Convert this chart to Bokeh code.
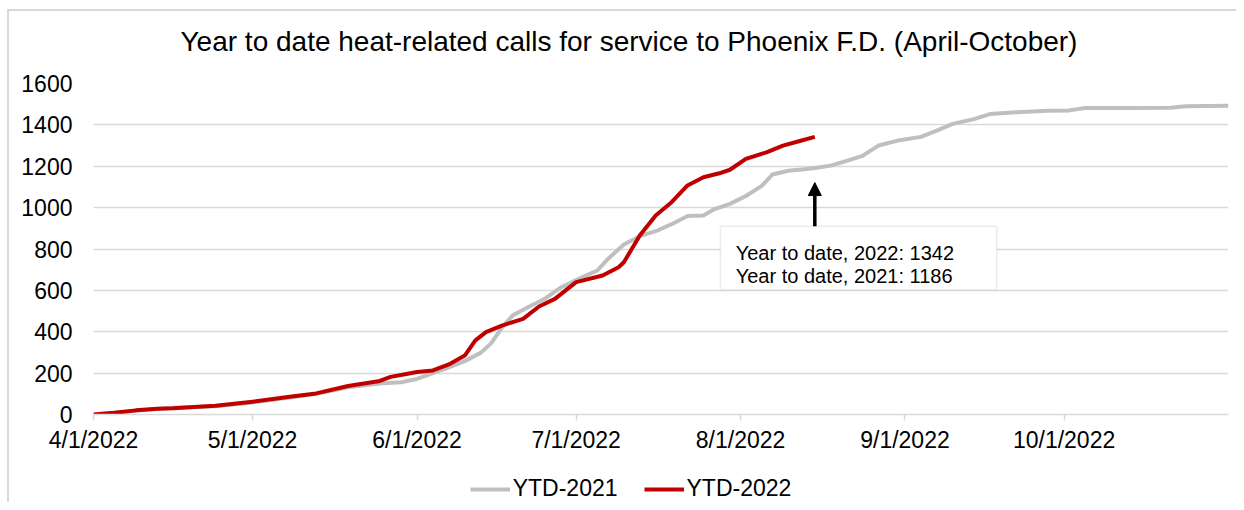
import pandas as pd
from bokeh.plotting import figure
from bokeh.layouts import column
from bokeh.models import (Range1d, FixedTicker, CustomJSTickFormatter, Legend, LegendItem,
                          Arrow, NormalHead, BoxAnnotation, Label, Title)
from bokeh.embed import file_html
from bokeh.resources import INLINE

title_text = "Year to date heat-related calls for service to Phoenix F.D. (April-October)"
series_names = ["YTD-2021", "YTD-2022"]

dates_2021 = ["2022-04-01", "2022-04-09", "2022-04-16", "2022-04-24", "2022-05-01", "2022-05-08",
              "2022-05-13", "2022-05-19", "2022-05-25", "2022-05-29", "2022-06-01", "2022-06-04",
              "2022-06-07", "2022-06-10", "2022-06-13", "2022-06-15", "2022-06-17", "2022-06-19",
              "2022-06-22", "2022-06-25", "2022-06-28", "2022-07-02", "2022-07-05", "2022-07-07",
              "2022-07-10", "2022-07-13", "2022-07-16", "2022-07-19", "2022-07-22", "2022-07-25",
              "2022-07-27", "2022-07-30", "2022-08-02", "2022-08-05", "2022-08-07", "2022-08-10",
              "2022-08-13", "2022-08-15", "2022-08-18", "2022-08-21", "2022-08-24", "2022-08-27",
              "2022-08-31", "2022-09-04", "2022-09-07", "2022-09-10", "2022-09-14", "2022-09-17",
              "2022-09-22", "2022-09-28", "2022-10-02", "2022-10-05", "2022-10-14", "2022-10-21",
              "2022-10-24", "2022-11-01"]
ytd_2021 = [0, 18, 33, 40, 58, 82,
            100, 132, 150, 156, 172, 200,
            228, 258, 298, 345, 420, 478,
            520, 558, 612, 662, 696, 752,
            822, 862, 886, 920, 960, 962,
            992, 1018, 1056, 1105, 1160, 1178,
            1186, 1192, 1203, 1226, 1250, 1300,
            1326, 1342, 1372, 1405, 1428, 1452,
            1461, 1468, 1470, 1482, 1482, 1483,
            1490, 1493]

dates_2022 = ["2022-04-01", "2022-04-05", "2022-04-09", "2022-04-13", "2022-04-16", "2022-04-24",
              "2022-05-01", "2022-05-08", "2022-05-13", "2022-05-19", "2022-05-25", "2022-05-27",
              "2022-05-30", "2022-06-01", "2022-06-04", "2022-06-07", "2022-06-10", "2022-06-12",
              "2022-06-14", "2022-06-17", "2022-06-21", "2022-06-24", "2022-06-27", "2022-07-01",
              "2022-07-06", "2022-07-09", "2022-07-10", "2022-07-13", "2022-07-16", "2022-07-19",
              "2022-07-22", "2022-07-25", "2022-07-28", "2022-07-30", "2022-08-02", "2022-08-06",
              "2022-08-09", "2022-08-12", "2022-08-15"]
ytd_2022 = [0, 8, 20, 28, 30, 42,
            62, 86, 102, 138, 162, 182,
            196, 205, 213, 242, 285, 358,
            398, 430, 462, 522, 559, 640,
            672, 712, 736, 865, 962, 1026,
            1107, 1147, 1166, 1183, 1236, 1268,
            1300, 1321, 1342]

x_tick_dates = ["2022-04-01", "2022-05-01", "2022-06-01", "2022-07-01",
                "2022-08-01", "2022-09-01", "2022-10-01"]
y_ticks = [0, 200, 400, 600, 800, 1000, 1200, 1400, 1600]

annotation_lines = ["Year to date, 2022: 1342", "Year to date, 2021: 1186"]


def ms(d):
    return pd.Timestamp(d).value / 1e6


FONT = "Liberation Sans"
GRID = "#d9d9d9"
GRAY = "#BFBFBF"
RED = "#C00000"

p = figure(width=1227, height=452, x_axis_type="datetime", output_backend="svg",
           toolbar_location=None,
           x_range=Range1d(ms("2022-04-01"), ms("2022-11-01")),
           y_range=Range1d(0, 1600),
           min_border_left=84, min_border_right=8, min_border_top=72, min_border_bottom=49)
p.outline_line_color = None
p.background_fill_color = "white"
p.border_fill_color = "white"

p.title = Title(text=title_text, align="left", offset=87, text_font=FONT,
                text_font_size="28px", text_font_style="normal", text_color="black")
# blank spacer between the title and the plot area
p.add_layout(Title(text=" ", text_font_size="10px", standoff=9), "above")

x21 = pd.to_datetime(dates_2021)
x22 = pd.to_datetime(dates_2022)
p.line(x21, ytd_2021, line_color=GRAY, line_width=4, line_join="round")
p.line(x22, ytd_2022, line_color=RED, line_width=4, line_join="round")

# axes
p.xaxis.ticker = FixedTicker(ticks=[ms(d) for d in x_tick_dates])
p.xaxis.formatter = CustomJSTickFormatter(code="""
const d = new Date(tick);
return (d.getUTCMonth()+1) + "/" + d.getUTCDate() + "/" + d.getUTCFullYear();
""")
p.xaxis.axis_line_color = GRID
p.xaxis.axis_line_width = 1.5
p.xaxis.major_tick_line_color = GRID
p.xaxis.major_tick_line_width = 1.5
p.xaxis.major_tick_out = 6
p.xaxis.major_tick_in = 0
p.xaxis.minor_tick_line_color = None
p.xaxis.major_label_text_font = FONT
p.xaxis.major_label_text_font_size = "23px"
p.xaxis.major_label_text_color = "black"
p.xaxis.major_label_standoff = 6

p.yaxis.ticker = FixedTicker(ticks=y_ticks)
p.yaxis.axis_line_color = None
p.yaxis.major_tick_line_color = None
p.yaxis.minor_tick_line_color = None
p.yaxis.major_tick_out = 0
p.yaxis.major_label_text_font = FONT
p.yaxis.major_label_text_font_size = "23px"
p.yaxis.major_label_text_color = "black"
p.yaxis.major_label_standoff = 21

p.xgrid.grid_line_color = None
p.ygrid.grid_line_color = GRID
p.ygrid.grid_line_width = 1.5

# annotation box, text and arrow
box = BoxAnnotation(left=ms("2022-07-28 05:00"), right=ms("2022-09-18 07:00"),
                    bottom=603, top=910, fill_color="white", fill_alpha=1,
                    line_color="#bfbfbf", line_width=1.5)
p.add_layout(box)
for txt, yv in zip(annotation_lines, [779, 668]):
    p.add_layout(Label(x=ms("2022-07-31 02:00"), y=yv, text=txt, text_font=FONT,
                       text_font_size="20px", text_color="black",
                       text_baseline="alphabetic", text_align="left"))
arrow_x = ms(dates_2022[-1])
p.add_layout(Arrow(end=NormalHead(size=13, fill_color="black", line_color="black"),
                   x_start=arrow_x, y_start=910, x_end=arrow_x, y_end=1121,
                   line_width=3.5, line_color="black"))

# legend strip under the chart (swatch renderers hold no visible data)
q = figure(width=1227, height=39, output_backend="svg", toolbar_location=None,
           x_range=Range1d(0, 1), y_range=Range1d(0, 1),
           x_axis_location=None, y_axis_location=None,
           min_border_left=0, min_border_right=0, min_border_top=0, min_border_bottom=0)
q.outline_line_color = None
q.background_fill_color = "white"
q.border_fill_color = "white"
q.grid.visible = False
k21 = q.line([float("nan")], [float("nan")], line_color=GRAY, line_width=4)
k22 = q.line([float("nan")], [float("nan")], line_color=RED, line_width=4)
legend = Legend(items=[LegendItem(label=series_names[0], renderers=[k21]),
                       LegendItem(label=series_names[1], renderers=[k22])],
                orientation="horizontal", location=(376.7, 0),
                glyph_width=40, glyph_height=20, label_standoff=3, spacing=26,
                padding=0, margin=0, border_line_alpha=0, background_fill_alpha=0,
                label_text_font=FONT, label_text_font_size="23px", label_text_color="black")
q.add_layout(legend)

layout = column(p, q, spacing=0,
                styles={"margin-left": "7px", "margin-top": "9px",
                        "border-left": "2px solid #d9d9d9", "border-top": "2px solid #d9d9d9"})

open("out.html", "w").write(file_html(layout, INLINE))
